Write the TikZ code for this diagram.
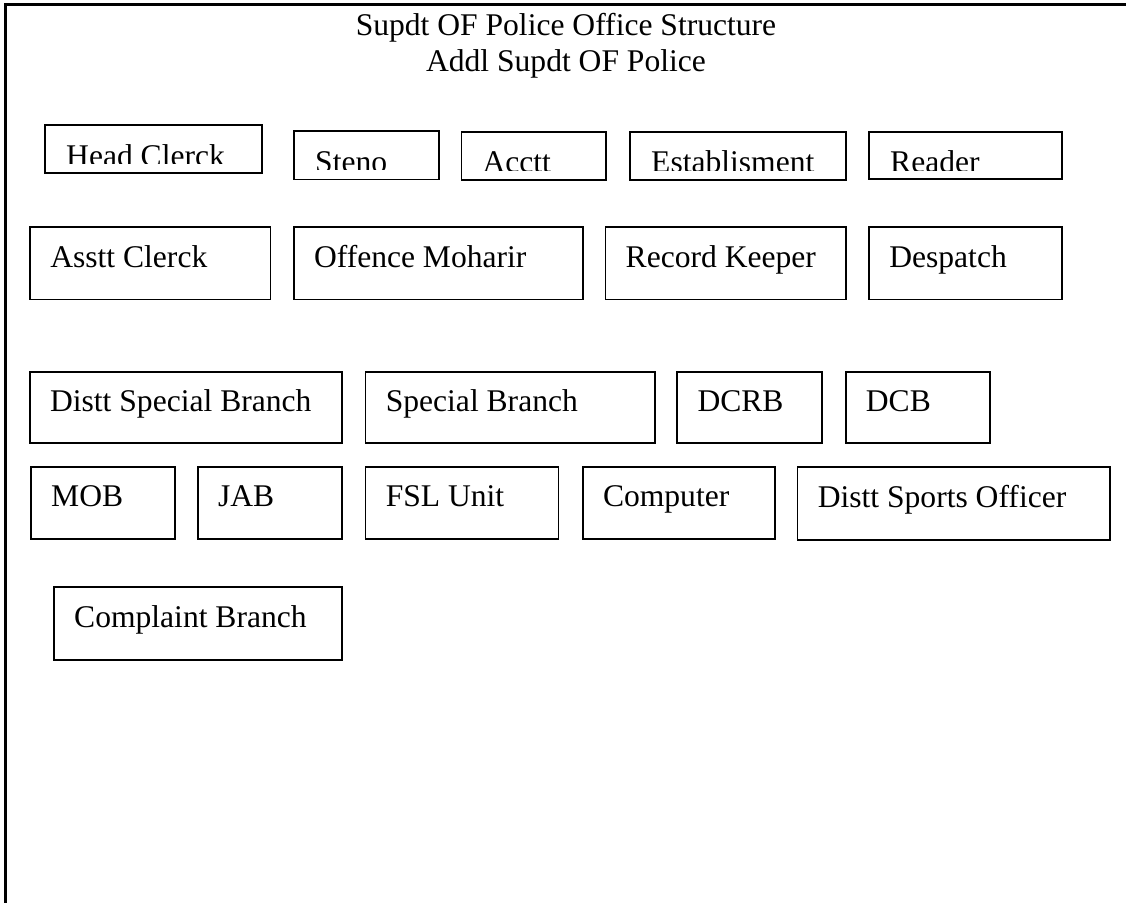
\documentclass[tikz,border=0pt]{standalone}
\usepackage{fontspec}
\setmainfont{Liberation Serif}
\usetikzlibrary{fit}
\tikzset{
  obox/.style={draw=black, line width=1.8bp, inner sep=0pt, fill=none},
  otext/.style={inner sep=0pt, anchor=base west, font=\fontsize{31.7}{36}\selectfont, text=black},
  ttext/.style={inner sep=0pt, anchor=base, font=\fontsize{31.7}{36}\selectfont, text=black},
  frameline/.style={draw=black, line width=2.4bp}
}
% box with text: name, x1, y1, x2, y2, text
\newcommand\obx[6]{%
  \coordinate (#1-nw) at (#2,#3);
  \coordinate (#1-se) at (#4,#5);
  \node[obox, fit=(#1-nw)(#1-se)] (#1) {};
  \node[otext] (#1-t) at ([xshift=21bp,yshift=-41bp]#1.north west) {#6};
}
% box whose text is cut off near the bottom
\newcommand\obxc[6]{%
  \coordinate (#1-nw) at (#2,#3);
  \coordinate (#1-se) at (#4,#5);
  \begin{scope}
    \clip (#2,#3) rectangle (#4,#3+38.3);
    \node[otext] (#1-t) at ([xshift=21bp,yshift=-41bp]#1-nw) {#6};
  \end{scope}
  \node[obox, fit=(#1-nw)(#1-se)] (#1) {};
}
\begin{document}
\begin{tikzpicture}[x=1bp,y=-1bp]
\useasboundingbox (0,0) rectangle (1126,903);
\fill[white] (-10,-10) rectangle (1136,913);
\coordinate (fbl) at (5.5,912);
\coordinate (ftl) at (5.5,4.5);
\coordinate (ftr) at (1136,4.5);
\draw[frameline] (fbl) -- (ftl) -- (ftr);

\node[ttext] (title1) at (566,35) {Supdt OF Police Office Structure};
\node[ttext] (title2) at (566,71) {Addl Supdt OF Police};

% row 1
\obxc{head}{45}{125}{261.7}{173.3}{Head Clerck}
\obxc{steno}{294}{131}{439}{179.5}{Steno}
\obxc{acctt}{461.4}{131.7}{606}{180}{Acctt}
\obxc{estab}{630}{131.7}{846}{180}{Establisment}
\obxc{reader}{869}{131.7}{1061.7}{179.3}{Reader}

% row 2
\obx{asstt}{30}{227.3}{270.5}{299.5}{Asstt Clerck}
\obx{offence}{293.7}{227.3}{582.7}{299.5}{Offence Moharir}
\obx{record}{605.4}{227.3}{846.3}{299.5}{Record Keeper}
\obx{despatch}{869}{227.3}{1061.7}{299.5}{Despatch}

% row 3
\obx{dsb}{29.8}{371.7}{342.2}{443.3}{Distt Special Branch}
\obx{sb}{365.5}{371.7}{654.6}{443.3}{Special Branch}
\obx{dcrb}{677.2}{371.7}{822.2}{443.3}{DCRB}
\obx{dcb}{845.6}{371.7}{990.3}{443.3}{DCB}

% row 4
\obx{mob}{30.9}{466.7}{175.2}{539.3}{MOB}
\obx{jab}{197.8}{466.7}{342.2}{539.3}{JAB}
\obx{fsl}{365.5}{466.7}{558.4}{539.3}{FSL Unit}
\obx{computer}{582.7}{466.7}{775.2}{539.3}{Computer}
\obx{dso}{797.5}{467.3}{1110}{540}{Distt Sports Officer}

% row 5
\obx{complaint}{53.9}{587.3}{342.2}{660}{Complaint Branch}
\end{tikzpicture}
\end{document}
